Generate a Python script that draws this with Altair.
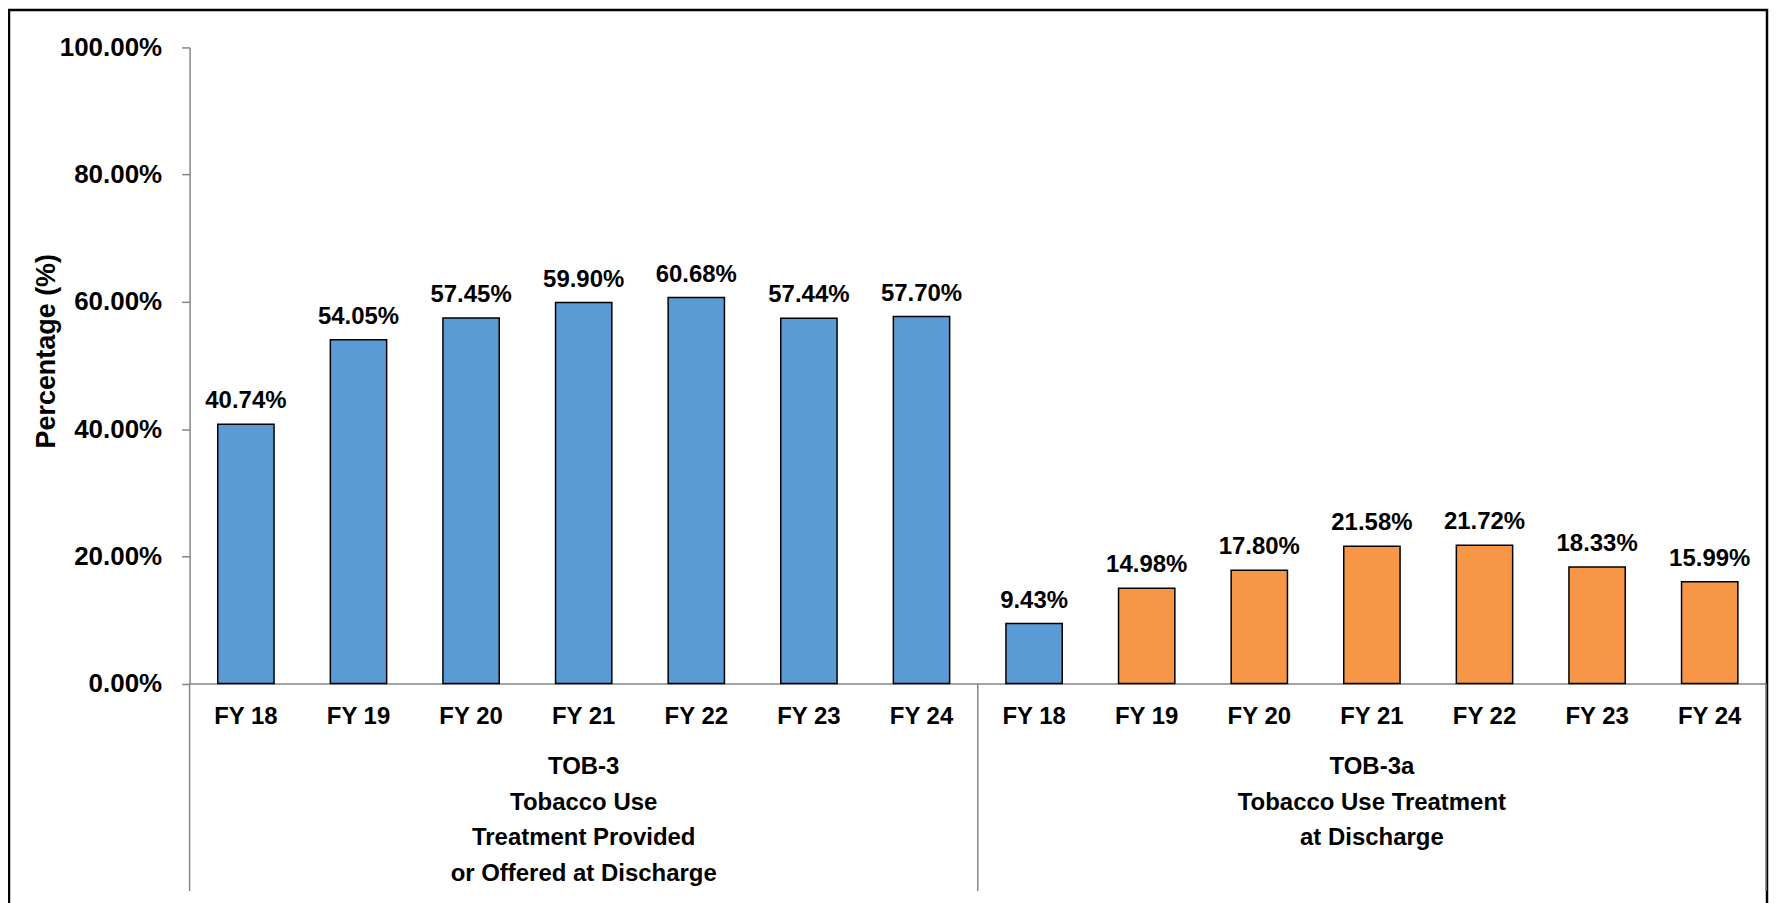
import altair as alt
import pandas as pd

years = ["FY 18", "FY 19", "FY 20", "FY 21", "FY 22", "FY 23", "FY 24"]
group_names = ["TOB-3", "TOB-3a"]
tob3_values = [40.74, 54.05, 57.45, 59.90, 60.68, 57.44, 57.70]
tob3a_values = [9.43, 14.98, 17.80, 21.58, 21.72, 18.33, 15.99]
group_titles = [
    "TOB-3\nTobacco Use\nTreatment Provided\nor Offered at Discharge",
    "TOB-3a\nTobacco Use Treatment\nat Discharge",
]
y_ticks = [0, 20, 40, 60, 80, 100]

rows = []
for g, vals in zip(group_names, [tob3_values, tob3a_values]):
    for yr, v in zip(years, vals):
        rows.append({"group": g, "year": yr, "key": f"{g}|{yr}", "value": v})
df = pd.DataFrame(rows)
keys = df["key"].tolist()

BLUE = "#5B9BD5"
ORANGE = "#F79646"
GRAY = "#868686"
FONT = "Liberation Sans"
W = 1580
H = 637.5

x_scale = alt.Scale(domain=keys, paddingInner=0, paddingOuter=0)
x_enc = alt.X(
    "key:N",
    scale=x_scale,
    axis=alt.Axis(
        title=None,
        labelExpr="split(datum.value, '|')[1]",
        bandPosition=0.5,
        ticks=False,
        tickSize=0,
        labelAngle=0,
        labelAlign="center",
        labelFont=FONT,
        labelFontSize=24,
        labelFontWeight="bold",
        labelColor="black",
        labelPadding=33,
        domainColor=GRAY,
        domainWidth=1.5,
    ),
)
y_enc = alt.Y(
    "value:Q",
    scale=alt.Scale(domain=[0, 100], nice=False),
    axis=alt.Axis(
        values=y_ticks,
        labelExpr="format(datum.value, '.2f') + '%'",
        grid=False,
        tickSize=8,
        tickColor=GRAY,
        tickWidth=1.5,
        domainColor=GRAY,
        domainWidth=1.5,
        labelPadding=20,
        labelFont=FONT,
        labelFontSize=26,
        labelFontWeight="bold",
        labelColor="black",
        title="Percentage (%)",
        titleFont=FONT,
        titleFontSize=27,
        titleFontWeight="bold",
        titleColor="black",
        titleAngle=-90,
        titleX=-143,
        titleY=304,
        titleAlign="center",
        titleBaseline="middle",
    ),
)

base = alt.Chart(df)

bars = base.mark_bar(width={"band": 0.5}, stroke="black", strokeWidth=1.5).encode(
    x=x_enc,
    y=y_enc,
    color=alt.condition(
        "datum.group === 'TOB-3' || datum.year === 'FY 18'",
        alt.value(BLUE),
        alt.value(ORANGE),
    ),
)

labels = base.transform_calculate(
    label="format(datum.value, '.2f') + '%'"
).mark_text(
    baseline="alphabetic", dy=-16, font=FONT, fontSize=24, fontWeight="bold", color="black"
).encode(
    x=alt.X("key:N"),
    y=alt.Y("value:Q"),
    text="label:N",
)

group_df = pd.DataFrame({"key": [keys[3], keys[10]], "title": group_titles})
group_text = alt.Chart(group_df).mark_text(
    lineBreak="\n",
    baseline="alphabetic",
    align="center",
    font=FONT,
    fontSize=24,
    fontWeight="bold",
    color="black",
    lineHeight=35.5,
).encode(
    x=alt.X("key:N"),
    y=alt.value(H + 91),
    text="title:N",
)

sep_df = pd.DataFrame({"key": [keys[0], keys[7]]})
seps = alt.Chart(sep_df).mark_rule(color=GRAY, strokeWidth=1.5).encode(
    x=alt.X("key:N", bandPosition=0),
    y=alt.value(H),
    y2=alt.value(H + 208),
)
end_df = pd.DataFrame({"key": [keys[-1]]})
end_sep = alt.Chart(end_df).mark_rule(color=GRAY, strokeWidth=1.5).encode(
    x=alt.X("key:N", bandPosition=1),
    y=alt.value(H),
    y2=alt.value(H + 208),
)

frame = alt.Chart(pd.DataFrame({"a": [0]})).mark_rect(
    fillOpacity=0, stroke="black", strokeWidth=2.5
).encode(
    x=alt.value(-181),
    x2=alt.value(1581),
    y=alt.value(-37.5),
    y2=alt.value(H + 300),
)

chart = (
    alt.layer(frame, seps, end_sep, bars, labels, group_text)
    .properties(
        width=W,
        height=H,
        padding={"left": 182, "top": 38.5, "right": 3, "bottom": 219},
        autosize=alt.AutoSizeParams(type="none"),
        background="white",
    )
    .configure(font=FONT)
    .configure_view(stroke="transparent")
)

chart.save("out.html", embed_options={"renderer": "svg", "actions": False})
